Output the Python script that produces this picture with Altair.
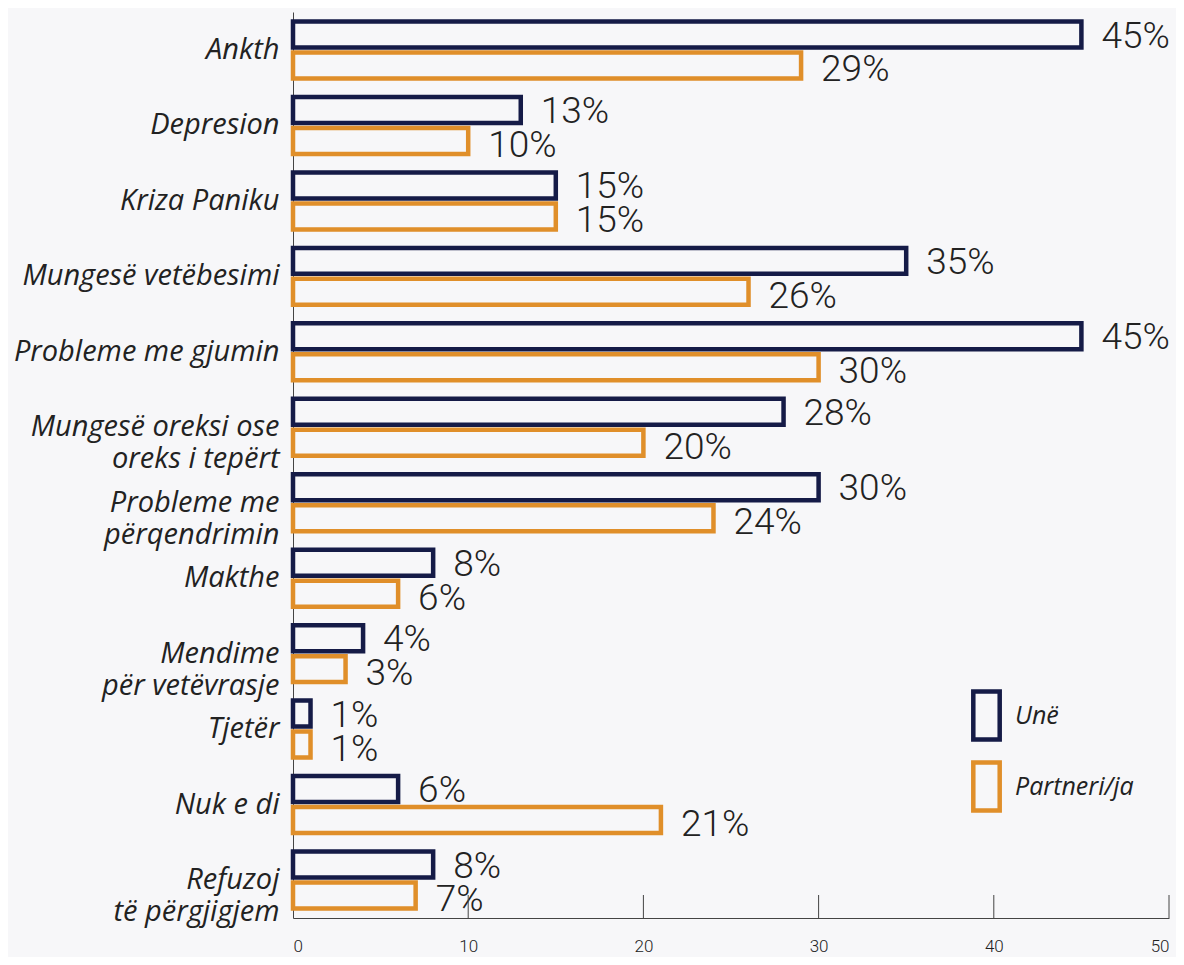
import altair as alt
import pandas as pd

categories = ["Ankth", "Depresion", "Kriza Paniku", "Mungesë vetëbesimi",
              "Probleme me gjumin", "Mungesë oreksi ose |oreks i tepërt",
              "Probleme me |përqendrimin", "Makthe", "Mendime |për vetëvrasje",
              "Tjetër", "Nuk e di", "Refuzoj |të përgjigjem"]
une = [45, 13, 15, 35, 45, 28, 30, 8, 4, 1, 6, 8]
partner = [29, 10, 15, 26, 30, 20, 24, 6, 3, 1, 21, 7]
series = ["Unë", "Partneri/ja"]
ticks = [10, 20, 30, 40, 50]

NAVY = "#151b47"
ORANGE = "#e08f2a"
TEXT = "#222222"
BG = "#f7f7f9"

rows = []
for c, a, b in zip(categories, une, partner):
    rows.append({"cat": c, "series": series[0], "v": a, "lab": f"{a}%"})
    rows.append({"cat": c, "series": series[1], "v": b, "lab": f"{b}%"})
df = pd.DataFrame(rows)
tdf = pd.DataFrame({"t": ticks})

W, H = 876, 906

xscale = alt.Scale(domain=[0, 50], nice=False, zero=True)
yscale = alt.Scale(paddingInner=0.245, paddingOuter=0.126)
yoff = alt.Scale(domain=series, paddingInner=0.161, paddingOuter=0)

y_enc = alt.Y("cat:N", sort=categories, scale=yscale,
              axis=alt.Axis(title=None, ticks=False, domain=True, domainColor="#444",
                            domainWidth=1, labelFont="Open Sans", labelFontStyle="italic",
                            labelFontSize=29, labelColor=TEXT, labelPadding=14,
                            labelLineHeight=32, labelLimit=400,
                            labelExpr="split(datum.label, '|')"))
x_enc = alt.X("v:Q", scale=xscale,
              axis=alt.Axis(title=None, ticks=False, grid=False, values=[0, 10, 20, 30, 40, 50],
                            domainColor="#444", domainWidth=1, labelFont="Roboto",
                            labelFontSize=17, labelColor=TEXT, labelPadding=20, labelFontWeight=300))

bars = alt.Chart(df).mark_bar(fill="transparent", strokeWidth=4.5).encode(
    x=x_enc,
    y=y_enc,
    yOffset=alt.YOffset("series:N", sort=series, scale=yoff),
    stroke=alt.Stroke("series:N", sort=series,
                      scale=alt.Scale(domain=series, range=[NAVY, ORANGE]),
                      legend=alt.Legend(title=None, orient="none", legendX=667, legendY=677,
                                        symbolType="M-0.55,-1L0.55,-1L0.55,1L-0.55,1Z",
                                        symbolSize=2304, symbolStrokeWidth=4.5,
                                        symbolFillColor="transparent",
                                        labelFont="Open Sans", labelFontStyle="italic",
                                        labelFontSize=25, labelColor=TEXT,
                                        rowPadding=4, labelOffset=2, padding=0)),
)

txt_top = alt.Chart(df).transform_filter(alt.datum.series == series[0]).mark_text(
    align="left", baseline="middle", dx=20, dy=2, font="Roboto", fontWeight=300,
    fontSize=37, color=TEXT).encode(
    x=alt.X("v:Q", scale=xscale),
    y=alt.Y("cat:N", sort=categories, scale=yscale),
    yOffset=alt.YOffset("series:N", sort=series, scale=yoff),
    text="lab:N")

txt_bot = alt.Chart(df).transform_filter(alt.datum.series == series[1]).mark_text(
    align="left", baseline="middle", dx=20, dy=5, font="Roboto", fontWeight=300,
    fontSize=37, color=TEXT).encode(
    x=alt.X("v:Q", scale=xscale),
    y=alt.Y("cat:N", sort=categories, scale=yscale),
    yOffset=alt.YOffset("series:N", sort=series, scale=yoff),
    text="lab:N")

tick_rules = alt.Chart(tdf).mark_rule(color="#444", strokeWidth=1).encode(
    x=alt.X("t:Q", scale=xscale),
    y=alt.value(H - 23),
    y2=alt.value(H))

chart = alt.layer(bars, txt_top, txt_bot, tick_rules).properties(
    width=W, height=H, background=BG,
    autosize=alt.AutoSizeParams(type="none"),
    padding={"left": 285, "top": 4, "right": 7, "bottom": 39},
).configure_view(stroke=None)

chart.save("out.html", embed_options={"renderer": "svg", "actions": False})
